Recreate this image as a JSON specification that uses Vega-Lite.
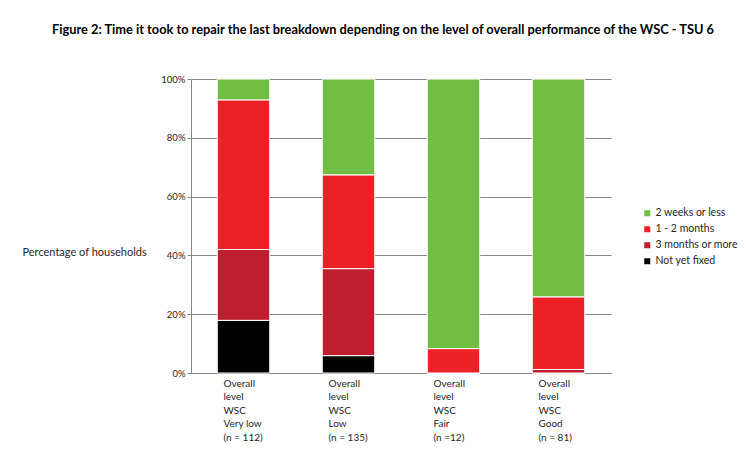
{
  "$schema": "https://vega.github.io/schema/vega-lite/v6.json",
  "width": 420,
  "height": 294,
  "autosize": {"type": "none"},
  "padding": {"left": 191, "top": 79, "right": 135, "bottom": 86},
  "background": "white",
  "title": {
    "text": "Figure 2: Time it took to repair the last breakdown depending on the level of overall performance of the WSC - TSU 6",
    "font": "Lato",
    "fontSize": 12.8,
    "fontWeight": "bold",
    "color": "#000000",
    "anchor": "middle",
    "frame": "group",
    "limit": 0,
    "dx": -18,
    "offset": 37
  },
  "data": {
    "values": [
      {"group": "Overall|level|WSC|Very low|(n = 112)", "time": "Not yet fixed", "rank": 1, "pct": 17.9},
      {"group": "Overall|level|WSC|Very low|(n = 112)", "time": "3 months or more", "rank": 2, "pct": 24.1},
      {"group": "Overall|level|WSC|Very low|(n = 112)", "time": "1 - 2 months", "rank": 3, "pct": 50.9},
      {"group": "Overall|level|WSC|Very low|(n = 112)", "time": "2 weeks or less", "rank": 4, "pct": 7.1},
      {"group": "Overall|level|WSC|Low|(n = 135)", "time": "Not yet fixed", "rank": 1, "pct": 5.9},
      {"group": "Overall|level|WSC|Low|(n = 135)", "time": "3 months or more", "rank": 2, "pct": 29.6},
      {"group": "Overall|level|WSC|Low|(n = 135)", "time": "1 - 2 months", "rank": 3, "pct": 31.9},
      {"group": "Overall|level|WSC|Low|(n = 135)", "time": "2 weeks or less", "rank": 4, "pct": 32.6},
      {"group": "Overall|level|WSC|Fair|(n =12)", "time": "Not yet fixed", "rank": 1, "pct": 0},
      {"group": "Overall|level|WSC|Fair|(n =12)", "time": "3 months or more", "rank": 2, "pct": 0},
      {"group": "Overall|level|WSC|Fair|(n =12)", "time": "1 - 2 months", "rank": 3, "pct": 8.3},
      {"group": "Overall|level|WSC|Fair|(n =12)", "time": "2 weeks or less", "rank": 4, "pct": 91.7},
      {"group": "Overall|level|WSC|Good|(n = 81)", "time": "Not yet fixed", "rank": 1, "pct": 0},
      {"group": "Overall|level|WSC|Good|(n = 81)", "time": "3 months or more", "rank": 2, "pct": 1.2},
      {"group": "Overall|level|WSC|Good|(n = 81)", "time": "1 - 2 months", "rank": 3, "pct": 24.7},
      {"group": "Overall|level|WSC|Good|(n = 81)", "time": "2 weeks or less", "rank": 4, "pct": 74.1}
    ]
  },
  "mark": {"type": "bar", "stroke": "#ffffff", "strokeWidth": 1},
  "encoding": {
    "x": {
      "field": "group",
      "type": "nominal",
      "sort": null,
      "scale": {"paddingInner": 0.5, "paddingOuter": 0.25},
      "axis": {
        "title": null,
        "labelAngle": 0,
        "labelExpr": "split(datum.value, '|')",
        "labelAlign": "left",
        "labelBaseline": "alphabetic",
        "labelOffset": -20,
        "labelPadding": 13,
        "labelLineHeight": 13.5,
        "labelFont": "Lato",
        "labelFontSize": 10,
        "labelColor": "#262626",
        "labelLimit": 0,
        "ticks": false,
        "domainColor": "#868686",
        "domainWidth": 1
      }
    },
    "y": {
      "field": "pct",
      "type": "quantitative",
      "stack": "zero",
      "scale": {"domain": [0, 100]},
      "axis": {
        "values": [0, 20, 40, 60, 80, 100],
        "labelExpr": "datum.value + '%'",
        "labelFont": "Lato",
        "labelFontSize": 9.5,
        "labelColor": "#262626",
        "labelPadding": 2,
        "tickSize": 4,
        "tickColor": "#868686",
        "domainColor": "#868686",
        "grid": true,
        "gridColor": "#868686",
        "gridWidth": 1,
        "title": "Percentage of households",
        "titleAngle": 0,
        "titleX": -169,
        "titleY": 173,
        "titleAlign": "left",
        "titleBaseline": "middle",
        "titleFont": "Lato",
        "titleFontSize": 11,
        "titleFontWeight": "normal",
        "titleColor": "#262626"
      }
    },
    "color": {
      "field": "time",
      "type": "nominal",
      "scale": {
        "domain": ["2 weeks or less", "1 - 2 months", "3 months or more", "Not yet fixed"],
        "range": ["#70BF44", "#EE2027", "#BE1E2D", "#000000"]
      },
      "legend": {
        "orient": "none",
        "legendX": 451,
        "legendY": 129,
        "title": null,
        "symbolType": "square",
        "symbolSize": 36,
        "symbolStrokeWidth": 0,
        "labelFont": "Lato",
        "labelFontSize": 10.5,
        "labelColor": "#262626",
        "labelOffset": 3,
        "rowPadding": 5
      }
    },
    "order": {"field": "rank", "type": "quantitative"}
  },
  "config": {"view": {"stroke": null}}
}
